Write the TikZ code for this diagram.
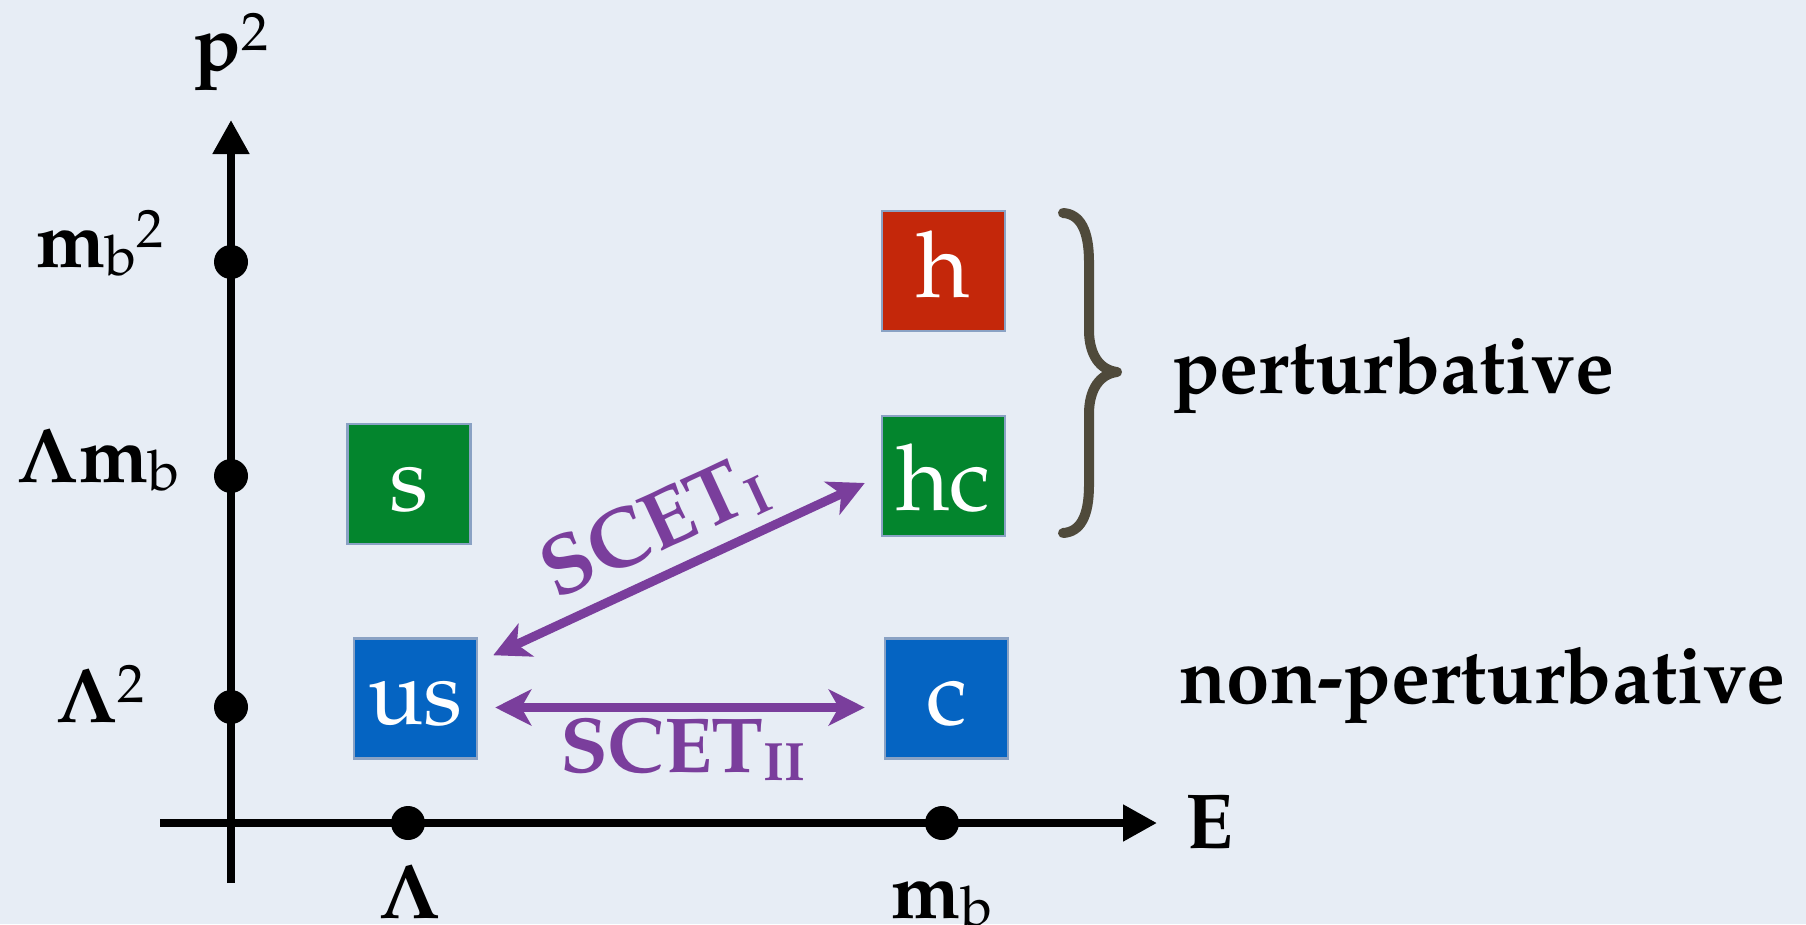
\documentclass[tikz,border=0pt]{standalone}
\usepackage[T1]{fontenc}
\usepackage{mathpazo}
\usetikzlibrary{arrows.meta}
\definecolor{bgc}{HTML}{E7EDF5}
\definecolor{boxred}{HTML}{C4270A}
\definecolor{boxgreen}{HTML}{03852D}
\definecolor{boxblue}{HTML}{0564C2}
\definecolor{boxline}{HTML}{8AA2C4}
\definecolor{scetpurple}{HTML}{7A3E9C}
\definecolor{bracec}{HTML}{4F4A3B}
\newcommand\supt{\raisebox{20pt}{\fontsize{54}{54}\selectfont\mdseries 2}}
\newcommand\subb{\raisebox{-8pt}{\fontsize{56}{56}\selectfont\mdseries b}}
\newcommand\bLam{{\boldmath$\Lambda$}}
\newcommand\scsub[1]{\raisebox{-8pt}{\fontsize{54}{54}\selectfont #1}}
\begin{document}
\begin{tikzpicture}[x=1pt,y=-1pt,
  lbl/.style={inner sep=0pt, text=black, font=\fontsize{78}{80}\selectfont\bfseries},
  side/.style={inner sep=0pt, text=black, font=\fontsize{78}{80}\selectfont\bfseries},
  box/.style={minimum width=123pt, minimum height=120pt, inner sep=0pt, draw=boxline,
    line width=2.5pt, text=white, font=\fontsize{92}{92}\selectfont,
    text height=52pt, text depth=0pt},
  axis/.style={line width=8pt, -{Triangle[length=34pt,width=35pt]}},
  dot/.style={circle, fill=black, inner sep=0pt, minimum size=34pt},
  link/.style={draw=scetpurple, line width=9pt,
    {Stealth[length=36pt,width=36pt,inset=10pt]}-{Stealth[length=36pt,width=36pt,inset=10pt]}},
  scet/.style={inner sep=0pt, text=scetpurple, font=\fontsize{78}{78}\selectfont\bfseries},
  bracestyle/.style={draw=bracec, line width=10pt, line cap=round, line join=round}
]
\fill[bgc] (0,0) rectangle (1806,924);
\useasboundingbox (0,0) rectangle (1806,924);

% axes
\coordinate (ybot) at (231,883);
\coordinate (ytop) at (231,120);
\coordinate (xleft) at (160,823);
\coordinate (xright) at (1157,823);
\draw[axis] (ybot) -- (ytop);
\draw[axis] (xleft) -- (xright);

% ticks
\node[dot] (dmbsq) at (231,262) {};
\node[dot] (dlmb) at (231,476) {};
\node[dot] (dlsq) at (231,707) {};
\node[dot] (dlam) at (408,823) {};
\node[dot] (dmb) at (942,823) {};

% axis labels
\node[lbl, anchor=base] (lp) at (231,70) {p\supt};
\node[lbl, anchor=base] (lmbsq) at (100,267) {m\subb\supt};
\node[lbl, anchor=base] (llmb) at (98,482) {\bLam m\subb};
\node[lbl, anchor=base] (llsq) at (100,722) {\bLam\supt};
\node[lbl, anchor=base] (llam) at (410,918) {\bLam};
\node[lbl, anchor=base] (lmb) at (942,918) {m\subb};
\node[lbl, anchor=base west] (lE) at (1185,848) {E};

% boxes
\node[box, fill=boxred] (h) at (943.5,271) {h};
\node[box, fill=boxgreen, text height=68pt] (hc) at (943.5,476) {hc};
\node[box, fill=boxgreen] (s) at (409,484) {s};
\node[box, fill=boxblue] (us) at (415.5,698.5) {us};
\node[box, fill=boxblue] (c) at (946.5,698.5) {c};

% SCET arrows
\draw[link] ([xshift=15pt,yshift=-18pt]us.north east) -- ([xshift=-16pt,yshift=-7pt]hc.west);
\draw[link] ([xshift=17pt,yshift=-9pt]us.east) -- ([xshift=-19pt,yshift=-9pt]c.west);
\node[scet, anchor=base west, rotate=24.8, font=\fontsize{83}{83}\selectfont\bfseries] (scetI) at (556,600) {SCET\scsub{I}};
\node[scet, anchor=base west] (scetII) at (560,772) {SCET\scsub{II}};

% brace
\draw[bracestyle] (1063,213) .. controls (1080,214) and (1089,230) .. (1089,262)
  -- (1089,330) .. controls (1089,355) and (1100,370) .. (1117,372)
  .. controls (1100,374) and (1089,389) .. (1089,414)
  -- (1089,485) .. controls (1089,517) and (1080,532) .. (1063,533);

% side labels
\node[side, anchor=base west] (pert) at (1172,393) {perturbative};
\node[side, anchor=base west] (npert) at (1179,703) {non-perturbative};
\end{tikzpicture}
\end{document}
